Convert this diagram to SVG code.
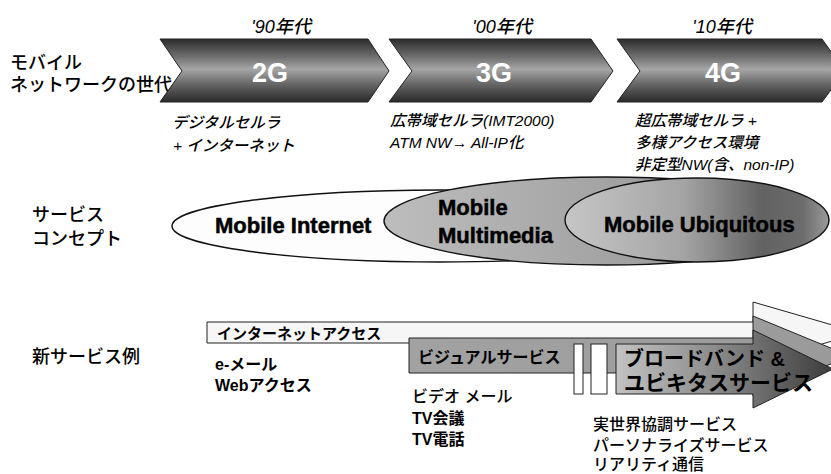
<svg xmlns="http://www.w3.org/2000/svg" width="831" height="474" viewBox="0 0 831 474">
<defs>
<linearGradient id="chev" x1="0" y1="0" x2="0" y2="1">
<stop offset="0" stop-color="#2c2c2c"/>
<stop offset="0.28" stop-color="#6e6e6e"/>
<stop offset="0.48" stop-color="#a6a6a6"/>
<stop offset="0.7" stop-color="#6a6a6a"/>
<stop offset="1" stop-color="#2a2a2a"/>
</linearGradient>
<linearGradient id="mm" x1="0" y1="0" x2="1" y2="0">
<stop offset="0" stop-color="#bdbdbd"/>
<stop offset="1" stop-color="#8a8a8a"/>
</linearGradient>
<linearGradient id="ubi" x1="0" y1="0" x2="1" y2="0">
<stop offset="0" stop-color="#c6c6c6"/>
<stop offset="0.45" stop-color="#a4a4a4"/>
<stop offset="0.75" stop-color="#626262"/>
<stop offset="0.9" stop-color="#6c6c6c"/>
<stop offset="1" stop-color="#9a9a9a"/>
</linearGradient>
<linearGradient id="grayArrow" x1="0" y1="0" x2="1" y2="0">
<stop offset="0" stop-color="#a2a2a2"/>
<stop offset="1" stop-color="#9a9a9a"/>
</linearGradient>
<linearGradient id="darkArrow" x1="0" y1="0" x2="1" y2="0">
<stop offset="0" stop-color="#c2c2c2"/>
<stop offset="0.45" stop-color="#8c8c8c"/>
<stop offset="1" stop-color="#3c3c3c"/>
</linearGradient>
<style>
.jp{font-family:"Liberation Sans","Noto Sans CJK JP",sans-serif;fill:#000}
.lbl{font-size:18px;font-weight:500}
.it{font-style:italic;font-size:15.5px;font-weight:500}
.yr{font-style:italic;font-size:18px;font-weight:500}
.gen{font-family:"Liberation Sans",sans-serif;font-weight:bold;font-size:27px;fill:#fff}
.cn{font-family:"Liberation Sans",sans-serif;font-weight:bold;font-size:22px;fill:#000;stroke:#000;stroke-width:0.5}
.chev{fill:url(#chev);stroke:#222;stroke-width:1}
.ell{stroke:#111;stroke-width:1.4}
.svc{font-size:16px}
.b{font-weight:bold}
.box{stroke:#222;stroke-width:1}
</style>
</defs>

<g id="labels-left">
<text class="jp lbl" x="10" y="69">モバイル</text>
<text class="jp lbl" x="10" y="91">ネットワークの世代</text>
<text class="jp lbl" x="32" y="221">サービス</text>
<text class="jp lbl" x="32" y="245">コンセプト</text>
<text class="jp lbl" x="32" y="363">新サービス例</text>
</g>

<g id="gen-2G">
<text class="jp yr" x="281" y="33" text-anchor="middle">'90年代</text>
<polygon class="chev" points="160,39 368,39 389,71 368,102 160,102 182,71"/>
<text class="gen" x="270" y="82" text-anchor="middle">2G</text>
<text class="jp it" x="172" y="128">デジタルセルラ</text>
<text class="jp it" x="173" y="151">+  インターネット</text>
</g>

<g id="gen-3G">
<text class="jp yr" x="502" y="33" text-anchor="middle">'00年代</text>
<polygon class="chev" points="389,39 591,39 613,71 591,102 389,102 412,71"/>
<text class="gen" x="494" y="82" text-anchor="middle">3G</text>
<text class="jp it" x="390" y="126">広帯域セルラ(IMT2000)</text>
<text class="jp it" x="390" y="148">ATM  NW→  All-IP化</text>
</g>

<g id="gen-4G">
<text class="jp yr" x="722" y="33" text-anchor="middle">'10年代</text>
<polygon class="chev" points="617,39 822,39 845,71 822,102 617,102 640,71"/>
<text class="gen" x="723" y="82" text-anchor="middle">4G</text>
<text class="jp it" x="635" y="126">超広帯域セルラ  +</text>
<text class="jp it" x="635" y="148">多様アクセス環境</text>
<text class="jp it" x="635" y="170">非定型NW(含、non-IP)</text>
</g>

<g id="concept-internet">
<ellipse class="ell" cx="440" cy="226" rx="268" ry="36" fill="#fdfdfd"/>
<text class="cn" x="215" y="233">Mobile Internet</text>
</g>
<g id="concept-multimedia">
<ellipse class="ell" cx="606" cy="221" rx="222" ry="44" fill="url(#mm)"/>
<text class="cn" x="438" y="215">Mobile</text>
<text class="cn" x="438" y="243">Multimedia</text>
</g>
<g id="concept-ubiquitous">
<ellipse class="ell" cx="697" cy="220" rx="132" ry="42" fill="url(#ubi)"/>
<text class="cn" x="604" y="232">Mobile Ubiquitous</text>
</g>

<g id="svc-internet">
<path class="box" d="M207,322 H753 V302 L860,333 L753,364 V343 H207 Z" fill="#f6f6f6"/>
<text class="jp b" x="217" y="339" font-size="15">インターネットアクセス</text>
<text class="jp b svc" x="215" y="370">e-メール</text>
<text class="jp b svc" x="215" y="391">Webアクセス</text>
</g>

<g id="svc-visual">
<path class="box" d="M409,338 H753 V316 L850,356 L753,396 V373 H409 Z" fill="url(#grayArrow)"/>
<text class="jp b svc" x="418" y="363">ビジュアルサービス</text>
<text class="jp svc" x="412" y="402" font-weight="500">ビデオ メール</text>
<text class="jp b svc" x="412" y="424">TV会議</text>
<text class="jp b svc" x="412" y="445">TV電話</text>
</g>

<g id="svc-steps">
<rect class="box" x="574" y="344" width="9" height="50" fill="#fff"/>
<rect class="box" x="591" y="344" width="16" height="50" fill="#fff"/>
</g>

<g id="svc-broadband">
<path class="box" d="M616,344 H753 V330 L833,369 L753,408 V394 H616 Z" fill="url(#darkArrow)"/>
<text class="jp b" x="624" y="366" font-size="20">ブロードバンド &amp;</text>
<text class="jp b" x="624" y="390" font-size="21">ユビキタスサービス</text>
<text class="jp svc" x="593" y="430" font-weight="500">実世界協調サービス</text>
<text class="jp svc" x="593" y="451" font-weight="500">パーソナライズサービス</text>
<text class="jp svc" x="593" y="470" font-weight="500">リアリティ通信</text>
</g>

<g id="connectors"></g>
</svg>
